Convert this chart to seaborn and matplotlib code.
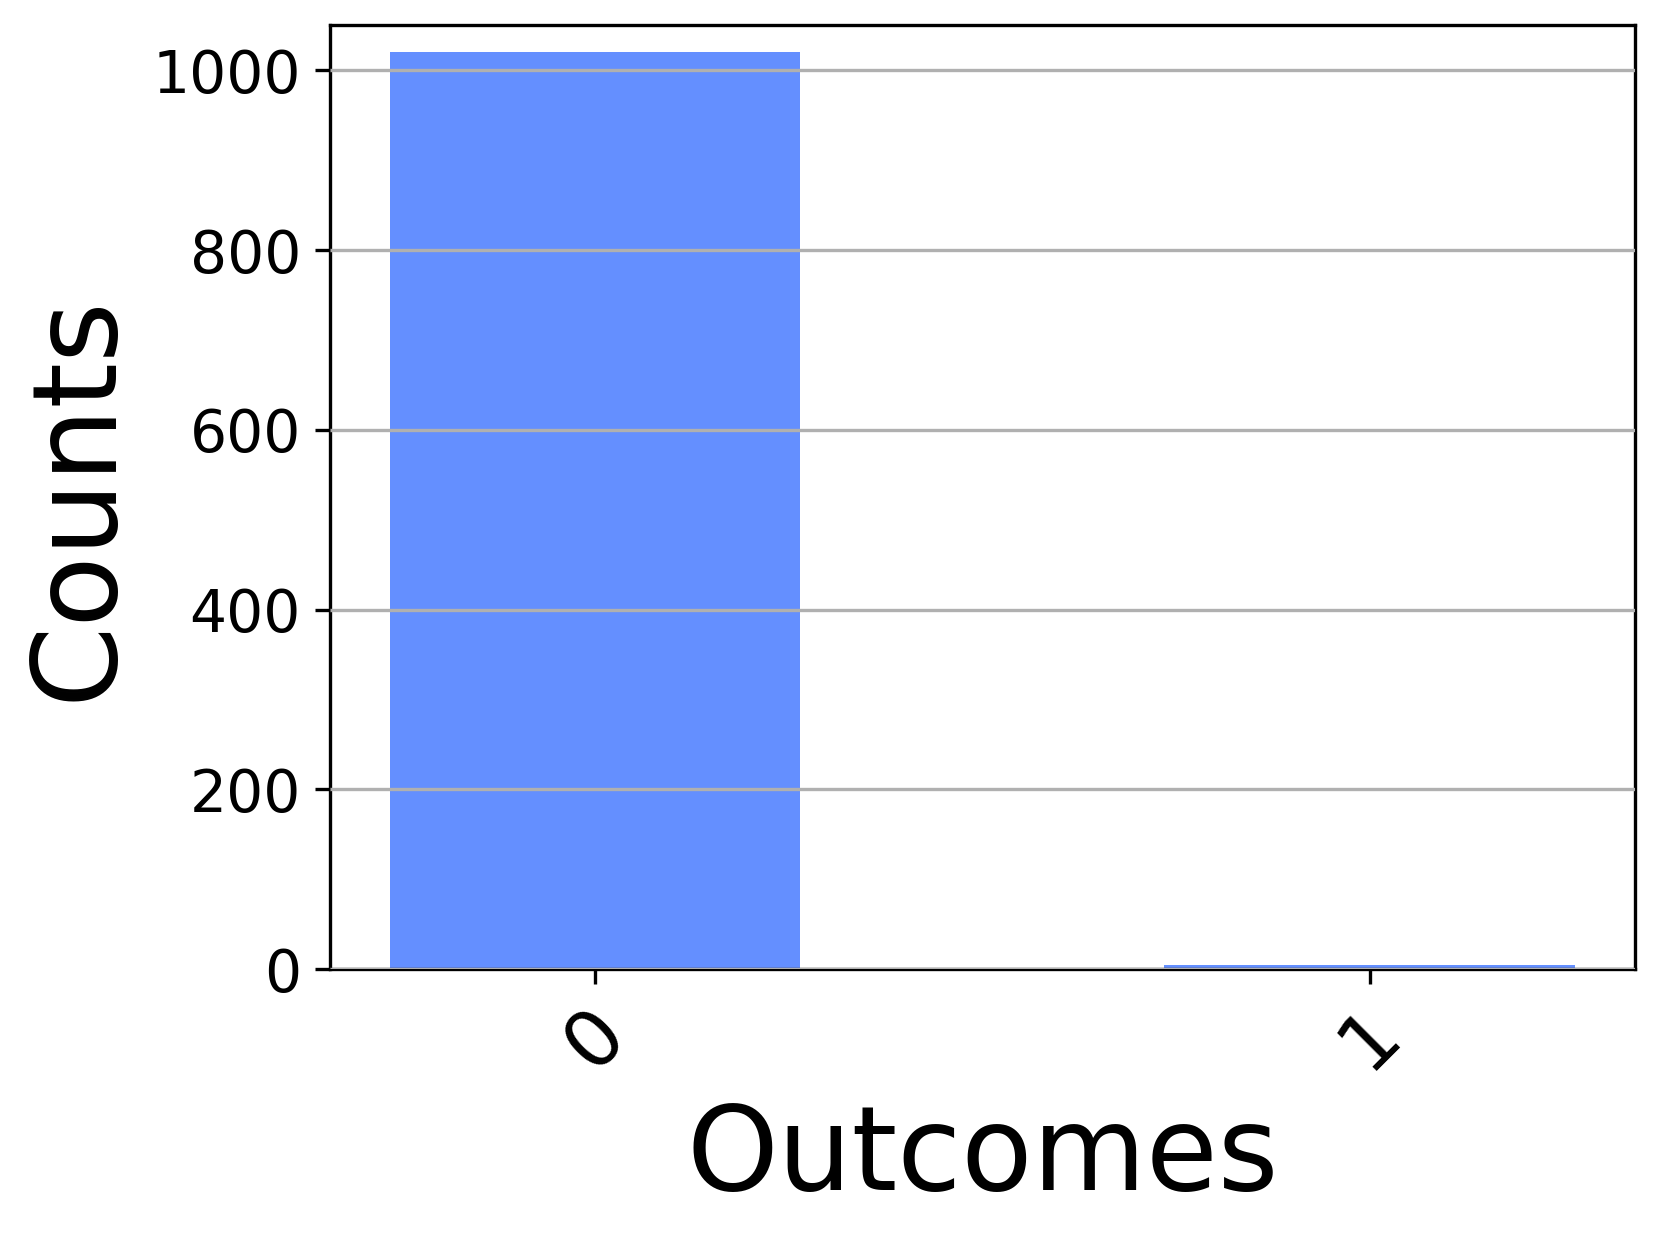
import pandas as pd
import matplotlib
matplotlib.use('Agg')
import matplotlib.pyplot as plt
import seaborn as sns

# measurement outcomes and counts
outcomes = ['0', '1']
counts = [1020, 4]

df = pd.DataFrame({'outcome': outcomes, 'count': counts})

fig = plt.figure(figsize=(5.54, 4.14), dpi=300)
ax = fig.add_axes([0.1986, 0.2198, 0.7854, 0.7597])

sns.barplot(x='outcome', y='count', data=df, order=outcomes,
            color='#648fff', saturation=1, width=0.53, ax=ax)

ax.set_xlim(-0.342, 1.343)
ax.set_ylim(0, 1050)
# grid lines sit on top of the bars
ax.set_axisbelow(False)
ax.yaxis.grid(True, color='#b0b0b0', linewidth=0.8)
for s in ax.spines.values():
    s.set_color('black')
    s.set_linewidth(0.8)

ax.tick_params(axis='y', labelsize=14, colors='black')
ax.tick_params(axis='x', labelsize=19, colors='black', pad=2.5)
plt.setp(ax.get_xticklabels(), rotation=45, ha='center')
ax.set_xlabel('Outcomes', fontsize=28)
ax.set_ylabel('Counts', fontsize=28)

fig.savefig('out.png', dpi=300)
